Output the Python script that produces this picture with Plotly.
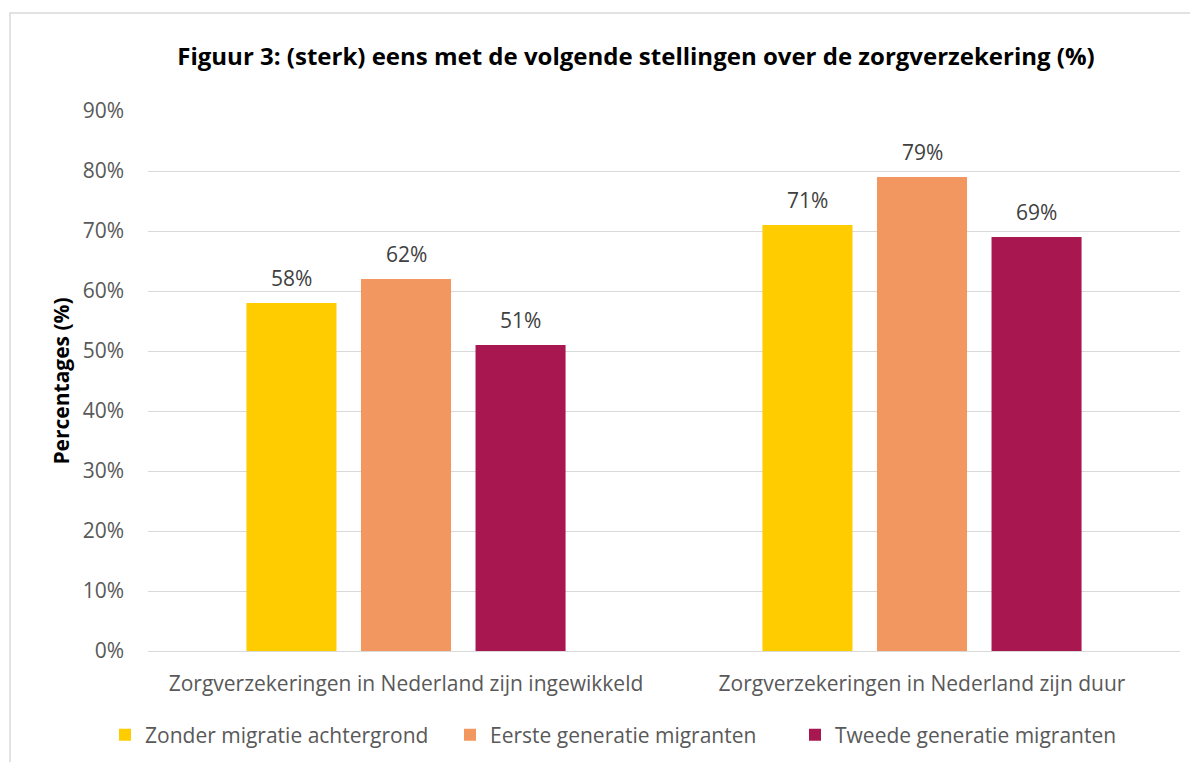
import plotly.graph_objects as go

categories = ["Zorgverzekeringen in Nederland zijn ingewikkeld", "Zorgverzekeringen in Nederland zijn duur"]
series_names = ["Zonder migratie achtergrond", "Eerste generatie migranten", "Tweede generatie migranten"]
zonder = [58, 71]
eerste = [62, 79]
tweede = [51, 69]
colors = ["#FFCC00", "#F2975F", "#A91751"]
y_ticks = [0, 10, 20, 30, 40, 50, 60, 70, 80, 90]
y_tick_labels = [f"{v}%" for v in y_ticks]

FONT = "'Open Sans', sans-serif"

# page body margin offset (8px) compensation
OFF = 8
W, H = 1198 - OFF, 762
l, r, t, b = 148 - OFF, W - (1180 - OFF), 111 - OFF, H - (651 - OFF)
pw, ph = W - l - r, H - t - b


def px(xref_px):
    return (xref_px - OFF - l) / pw


def py(yref_px):
    return (H - b - (yref_px - OFF)) / ph


fig = go.Figure()
annotations = []
shifts = [-114.6, 0, 114.6]
for name, vals, col, sh in zip(series_names, [zonder, eerste, tweede], colors, shifts):
    fig.add_trace(go.Bar(
        x=categories, y=vals, name=name, marker=dict(color=col, line=dict(width=0)),
    ))
    for c, v in zip(categories, vals):
        annotations.append(dict(x=c, y=v, xref="x", yref="y", text=f"{v}%", showarrow=False,
                                xshift=sh, yshift=25, yanchor="middle", xanchor="center",
                                font=dict(size=21, color="#404040", family=FONT)))

fig.update_layout(
    width=W, height=H,
    margin=dict(l=l, r=r, t=t, b=b),
    paper_bgcolor="white", plot_bgcolor="white",
    barmode="group", bargap=0.334, bargroupgap=0.214,
    font=dict(family=FONT, color="#595959", size=21),
    title=dict(text="<b>Figuur 3: (sterk) eens met de volgende stellingen over de zorgverzekering (%)</b>",
               x=px(636), xref="paper", xanchor="center", y=1 - (57 - OFF) / H, yanchor="middle",
               font=dict(size=24, color="#000000", family=FONT)),
    yaxis=dict(range=[0, 90], tickvals=y_ticks, ticktext=y_tick_labels,
               showgrid=True, gridcolor="#D9D9D9", gridwidth=1, zeroline=False,
               showline=False, ticks="", ticklabelstandoff=23,
               tickfont=dict(size=21, color="#595959"),
               title=dict(text="<b>Percentages (%)</b>", font=dict(size=21, color="#000000"), standoff=7)),
    xaxis=dict(showline=True, linecolor="#D9D9D9", linewidth=1, ticks="", ticklabelstandoff=14,
               tickfont=dict(size=21, color="#595959")),
    legend=dict(orientation="h", x=px(105), xanchor="left", y=py(735), yanchor="middle",
                font=dict(size=21, color="#595959"), traceorder="normal", itemwidth=30,
                entrywidth=300, entrywidthmode="pixels"),
    annotations=annotations,
    shapes=[dict(type="rect", xref="paper", yref="paper",
                 x0=px(10), x1=px(1230), y0=py(800), y1=py(13),
                 line=dict(color="#D9D9D9", width=1.5), fillcolor="rgba(0,0,0,0)", layer="below")],
)

fig.write_html("out.html")
